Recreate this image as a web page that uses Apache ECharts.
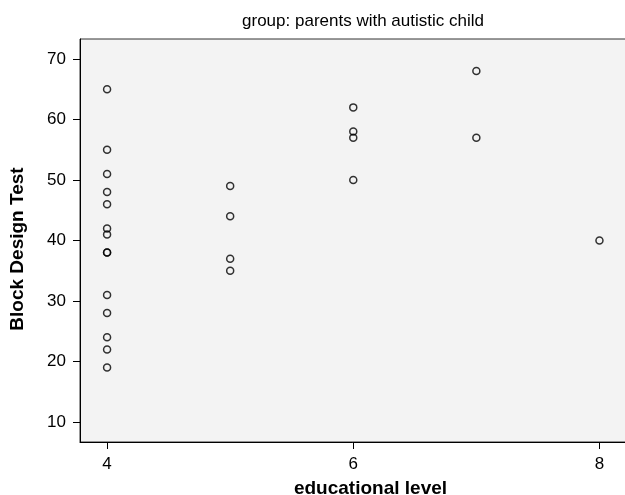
<!DOCTYPE html>
<html>
<head>
<meta charset="utf-8">
<script src="https://cdn.jsdelivr.net/npm/echarts@6/dist/echarts.min.js"></script>
<style>
html,body{margin:0;padding:0;background:#fff;}
#chart{width:625px;height:495px;}
</style>
</head>
<body>
<div id="chart"></div>
<script>
// Data
var eduLevel    = [4,4,4,4,4,4,4,4,4,4,4,4,4,4, 5,5,5,5, 6,6,6,6, 7,7, 8];
var blockDesign = [65,55,51,48,46,42,41,38,38,31,28,24,22,19, 49,44,37,35, 62,58,57,50, 68,57, 40];
var xTicks = [4,6,8];
var yTicks = [10,20,30,40,50,60,70];
var titleText = 'group: parents with autistic child';
var xTitle = 'educational level';
var yTitle = 'Block Design Test';

var FONT = '"Liberation Sans", Arial, Helvetica, sans-serif';
var points = eduLevel.map(function (x, i) { return [x, blockDesign[i]]; });

var chart = echarts.init(document.getElementById('chart'), null, {renderer: 'canvas'});
chart.setOption({
  animation: false,
  backgroundColor: '#ffffff',
  grid: {
    left: 80, top: 39, width: 581, height: 403,
    outerBoundsMode: 'none', containLabel: false,
    show: true, backgroundColor: '#f3f3f3', borderColor: '#333', borderWidth: 1
  },
  xAxis: {
    type: 'value', min: 3.78, max: 8.5,
    name: xTitle, nameLocation: 'middle', nameGap: 37,
    nameTextStyle: {fontFamily: FONT, fontSize: 19, fontWeight: 'bold', color: '#000'},
    axisLine: {show: true, onZero: false, lineStyle: {color: '#000', width: 1}},
    axisTick: {show: true, length: 7, customValues: xTicks, lineStyle: {color: '#000'}},
    axisLabel: {customValues: xTicks, margin: 14, fontFamily: FONT, fontSize: 17, color: '#000'},
    splitLine: {show: false}
  },
  yAxis: {
    type: 'value', min: 6.7, max: 73.3,
    axisLine: {show: true, onZero: false, lineStyle: {color: '#000', width: 1}},
    axisTick: {show: true, length: 7, customValues: yTicks, lineStyle: {color: '#000'}},
    axisLabel: {customValues: yTicks, margin: 14, fontFamily: FONT, fontSize: 17, color: '#000'},
    splitLine: {show: false}
  },
  graphic: [
    {type: 'text', x: 363, y: 21, style: {text: titleText, font: '17px ' + FONT, fill: '#000', align: 'center', verticalAlign: 'middle'}},
    {type: 'text', x: 18, y: 249, rotation: Math.PI / 2, style: {text: yTitle, font: 'bold 19px ' + FONT, fill: '#000', align: 'center', verticalAlign: 'middle'}}
  ],
  series: [{
    type: 'scatter',
    data: points,
    symbol: 'circle',
    symbolSize: 7,
    clip: false,
    itemStyle: {color: 'rgba(0,0,0,0)', borderColor: '#000', borderWidth: 1.5}
  }]
});
</script>
</body>
</html>
